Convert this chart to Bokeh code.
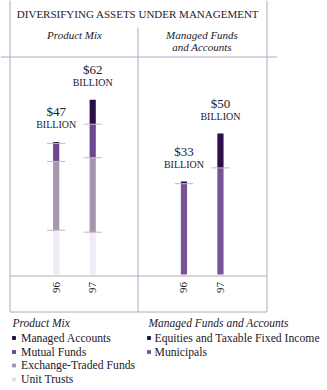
import math
from bokeh.plotting import figure
from bokeh.models import Range1d, ColumnDataSource
from bokeh.core.properties import value
from bokeh.embed import file_html
from bokeh.resources import INLINE

# ---------------- data ----------------
title = "DIVERSIFYING ASSETS UNDER MANAGEMENT"
years = ["96", "97"]

mix_title = "Product Mix"
mix_series = ["Managed Accounts", "Mutual Funds", "Exchange-Traded Funds", "Unit Trusts"]
managed_accounts = [0.5, 8.7]
mutual_funds = [6.4, 11.9]
exchange_traded = [24.4, 26.4]
unit_trusts = [15.7, 15.0]
mix_totals = [47, 62]

mf_title_lines = ["Managed Funds", "and Accounts"]
mf_title = "Managed Funds and Accounts"
mf_series = ["Equities and Taxable Fixed Income", "Municipals"]
equities = [0.8, 12.2]
municipals = [32.2, 37.8]
mf_totals = [33, 50]

# ---------------- style / layout ----------------
W, H = 327, 390
FONT = value("Liberation Serif")
TXT = "#221a2a"
LINE = "#b7a6c0"
TICK = "#c4b4cc"
C_DARK = "#2b0f48"
C_MF = "#6e4590"
C_ETF = "#a896af"
C_UT = "#f1ebf3"
C_MUNI = "#7a5397"

PX_X = 36.5          # px per x unit
PX_Y = 2.82          # px per billion
FIRST_BAR_PX = 55.7  # left edge offset of first bar centre
BASE_PX = 274        # baseline from top
GROUP_GAP = 2.5

p = figure(width=W, height=H, output_backend="svg", toolbar_location=None,
           x_axis_location=None, y_axis_location=None, min_border=0,
           x_range=Range1d(-FIRST_BAR_PX / PX_X, (W - FIRST_BAR_PX) / PX_X),
           y_range=Range1d(-(H - BASE_PX) / PX_Y, BASE_PX / PX_Y))
p.grid.visible = False
p.outline_line_color = None
p.background_fill_color = "white"
p.border_fill_color = "white"
p.extra_x_ranges = {"px": Range1d(0, W)}
p.extra_y_ranges = {"px": Range1d(H, 0)}

n = len(years)
x_mix = [float(i) for i in range(n)]
x_mf = [n - 1 + GROUP_GAP + i for i in range(n)]

# frame lines
p.segment(x0=[9.5, 266.5, 0, 137.5, 9.5, 9.5],
          y0=[0, 0, 56.5, 27, 275.5, 311.5],
          x1=[9.5, 266.5, 277, 137.5, 266.5, 266.5],
          y1=[311.5, 311.5, 56.5, 311.5, 275.5, 311.5],
          x_range_name="px", y_range_name="px", line_color=LINE, line_width=1)

# bars
BW = 0.17
src_mix = ColumnDataSource(dict(x=x_mix, ut=unit_trusts, etf=exchange_traded,
                                mf=mutual_funds, ma=managed_accounts))
p.vbar_stack(["ut", "etf", "mf", "ma"], x="x", width=BW, source=src_mix,
             color=[C_UT, C_ETF, C_MF, C_DARK], line_width=0)
src_mf = ColumnDataSource(dict(x=x_mf, mu=municipals, eq=equities))
p.vbar_stack(["mu", "eq"], x="x", width=BW, source=src_mf,
             color=[C_MUNI, C_DARK], line_width=0)

# boundary ticks
tx, ty = [], []
for i in range(n):
    c = 0
    for v in [unit_trusts[i], exchange_traded[i], mutual_funds[i]]:
        c += v
        tx.append(x_mix[i]); ty.append(c)
    tx.append(x_mf[i]); ty.append(municipals[i])
TH = 0.25
p.segment(x0=[x - TH for x in tx], y0=ty, x1=[x + TH for x in tx], y1=ty,
          line_color=TICK, line_width=1)

# total labels
lx = x_mix + x_mf
tot = mix_totals + mf_totals
p.text(x=lx, y=tot, text=["$%d" % t for t in tot], y_offset=-30,
       text_align="center", text_baseline="middle", text_font=FONT,
       text_font_size="13px", text_color=TXT)
p.text(x=lx, y=tot, text=["BILLION"] * len(tot), y_offset=-17,
       text_align="center", text_baseline="middle", text_font=FONT,
       text_font_size="10px", text_color=TXT)

# year labels
p.text(x=lx, y=[287] * len(lx), text=years + years, angle=math.pi / 2,
       y_range_name="px", text_align="center", text_baseline="middle",
       text_font=FONT, text_font_size="11px", text_color=TXT)

# title and headers
p.text(x=[137.5], y=[13.5], text=[title], x_range_name="px", y_range_name="px",
       text_align="center", text_baseline="middle", text_font=FONT,
       text_font_size="11px", text_color=TXT)
p.text(x=[74], y=[34], text=[mix_title], x_range_name="px", y_range_name="px",
       text_align="center", text_baseline="middle", text_font=FONT,
       text_font_style="italic", text_font_size="11px", text_color=TXT)
p.text(x=[201.5, 201.5], y=[34, 46], text=mf_title_lines, x_range_name="px",
       y_range_name="px", text_align="center", text_baseline="middle",
       text_font=FONT, text_font_style="italic", text_font_size="11px",
       text_color=TXT)

# legends
p.text(x=[12, 148], y=[322.5, 322.5], text=[mix_title, mf_title],
       x_range_name="px", y_range_name="px", text_align="left",
       text_baseline="middle", text_font=FONT, text_font_style="italic",
       text_font_size="11.5px", text_color=TXT)
row_y = [337.5, 351.5, 365, 379]
p.text(x=[20.5] * 4, y=row_y, text=mix_series, x_range_name="px",
       y_range_name="px", text_align="left", text_baseline="middle",
       text_font=FONT, text_font_size="11.7px", text_color=TXT)
p.scatter(x=[13.5] * 4, y=row_y, marker="square", size=3,
          color=[C_DARK, C_MF, C_ETF, "#e6dcea"], x_range_name="px",
          y_range_name="px")
p.text(x=[154] * 2, y=row_y[:2], text=mf_series, x_range_name="px",
       y_range_name="px", text_align="left", text_baseline="middle",
       text_font=FONT, text_font_size="11.7px", text_color=TXT)
p.scatter(x=[148.5] * 2, y=row_y[:2], marker="square", size=3,
          color=[C_DARK, C_MUNI], x_range_name="px", y_range_name="px")

open("out.html", "w").write(file_html(p, INLINE))
